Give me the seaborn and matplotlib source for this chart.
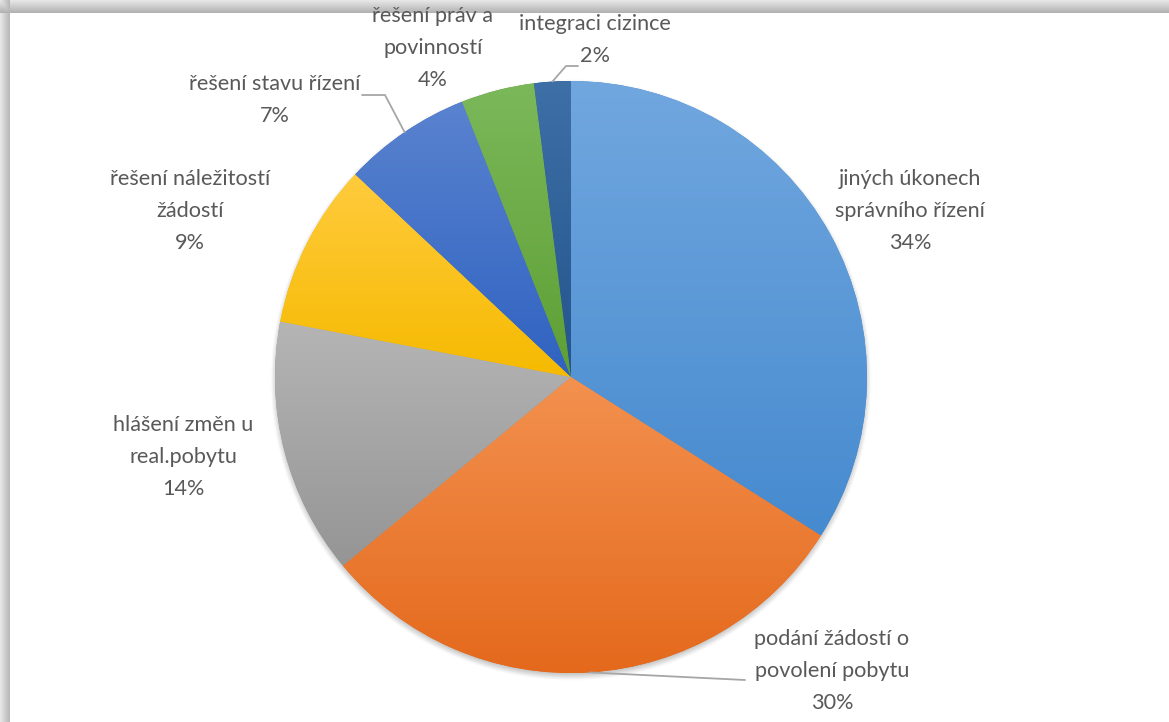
import numpy as np
import matplotlib
matplotlib.use("Agg")
import matplotlib.pyplot as plt
import matplotlib.colors as mcolors
import seaborn as sns

# Share of contacts by topic (percent)
categories = [
    "jiných úkonech\nsprávního řízení",
    "podání žádostí o\npovolení pobytu",
    "hlášení změn u\nreal.pobytu",
    "řešení náležitostí\nžádostí",
    "řešení stavu řízení",
    "řešení práv a\npovinností",
    "integraci cizince",
]
shares = [34, 30, 14, 9, 7, 4, 2]

# Office-like palette: (light top, dark bottom) for each slice
top_colors = ["#71A7DF", "#F3914F", "#B5B5B5", "#FFCB3D", "#5A83CF", "#7BB85A", "#3E6FA6"]
bottom_colors = ["#468ACF", "#E4691C", "#959595", "#F6BA00", "#2F62C1", "#5E9F34", "#24548C"]

sns.set_theme(style="white")
plt.rcParams["font.family"] = ["Lato", "DejaVu Sans"]

W, H = 1169, 722
fig = plt.figure(figsize=(W / 100, H / 100), dpi=100)
fig.patch.set_facecolor("white")

ax = fig.add_axes([0, 0, 1, 1])
ax.set_xlim(0, W)
ax.set_ylim(0, H)
ax.set_axis_off()

# Grey frame shading along the top and left edges of the panel
frame = np.ones((H, W))
yy, xx = np.mgrid[0:H, 0:W]
top_band = yy < 13
left_band = xx < 10
frame[top_band] = np.minimum(frame[top_band], 0.90 - 0.22 * (yy[top_band] / 13.0))
frame[left_band] = np.minimum(frame[left_band], 0.90 - 0.20 * (xx[left_band] / 10.0))
ax.imshow(frame, cmap="gray", vmin=0, vmax=1, extent=(0, W, 0, H), origin="upper",
          interpolation="nearest", zorder=0)

cx, cy, r = 571, H - 377, 296

# soft shadow under the pie
gx = np.linspace(cx - r - 20, cx + r + 20, 400)
gy = np.linspace(cy - r - 20, cy + r + 20, 400)
GX, GY = np.meshgrid(gx, gy)
d = np.hypot(GX - cx, GY - (cy - 3))
shadow_alpha = 0.45 * np.clip((r + 5 - d) / 9.0, 0, 1)
shadow = np.zeros((400, 400, 4))
shadow[..., :3] = 0.35
shadow[..., 3] = shadow_alpha
ax.imshow(shadow, extent=(gx[0], gx[-1], gy[0], gy[-1]), origin="lower",
          interpolation="bilinear", zorder=1)

wedges, _ = ax.pie(shares, startangle=90, counterclock=False, radius=r,
                   center=(cx, cy), colors=bottom_colors,
                   wedgeprops=dict(linewidth=0, zorder=2), frame=True)
ax.set_xlim(0, W)
ax.set_ylim(0, H)
ax.set_axis_off()

# vertical gradient inside every slice
for w, c0, c1 in zip(wedges, top_colors, bottom_colors):
    ext = w.get_path().get_extents(w.get_patch_transform())
    x0, y0, x1, y1 = ext.x0, ext.y0, ext.x1, ext.y1
    t = np.linspace(0, 1, 256)[:, None]
    a = np.array(mcolors.to_rgb(c0))
    b = np.array(mcolors.to_rgb(c1))
    grad = a[None, None, :] * (1 - t[..., None]) + b[None, None, :] * t[..., None]
    grad = np.repeat(grad, 2, axis=1)
    im = ax.imshow(grad, extent=(x0, x1, y0, y1), origin="upper",
                   interpolation="bilinear", zorder=3, aspect="auto")
    im.set_clip_path(w)

ax.set_xlim(0, W)
ax.set_ylim(0, H)

txt_color = "#595959"
fs = 15.6
line_px = 30

# label anchors: (x centre, y of the first line's middle) in pixels from the top
label_pos = [(910, 181), (832, 641), (183, 427), (190, 181), (275, 85), (433, 18), (595, 25)]
for name, val, (lx, ly) in zip(categories, shares, label_pos):
    text = f"{name}\n{val}%"
    n_lines = text.count("\n") + 1
    mid = ly + (n_lines - 1) * line_px / 2
    ax.text(lx, H - mid, text, ha="center", va="center", fontsize=fs,
            color=txt_color, linespacing=1.75, zorder=5)


def edge_point(idx):
    cum = np.cumsum([0] + shares)
    ang = (cum[idx] + cum[idx + 1]) / 2 / sum(shares) * 2 * np.pi
    return cx + r * np.sin(ang), cy + r * np.cos(ang)


lc = "#A6A6A6"
# leader lines
sx, sy = edge_point(1)
ax.plot([sx, 745], [sy, H - 680], color=lc, lw=1.3, zorder=4)
sx, sy = edge_point(4)
ax.plot([sx, 385, 362], [sy, H - 95, H - 95], color=lc, lw=1.3, zorder=4)
sx, sy = edge_point(6)
ax.plot([sx, 566, 578], [sy, H - 66, H - 66], color=lc, lw=1.3, zorder=4)

fig.savefig("out.png", dpi=100)
